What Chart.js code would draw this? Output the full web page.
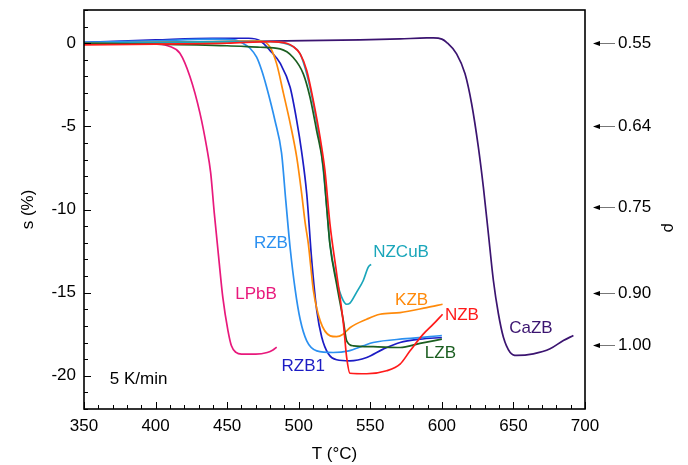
<!DOCTYPE html>
<html>
<head>
<meta charset="utf-8">
<script src="https://cdn.jsdelivr.net/npm/chart.js@4.4.1/dist/chart.umd.min.js"></script>
<style>
  html, body { margin:0; padding:0; background:#fff; }
  #wrap { width:688px; height:465px; }
</style>
</head>
<body>
<div id="wrap"><canvas id="ch-shrink" width="688" height="465"></canvas></div>
<script>
// ══════════════════════════════════════════════════════════════════════════════
//  DATA  (T in °C, s in %)
// ══════════════════════════════════════════════════════════════════════════════
const xTicks = [350, 400, 450, 500, 550, 600, 650, 700];
const yTicks = [-20, -15, -10, -5, 0];
const rhoLabels = ['0.55', '0.64', '0.75', '0.90', '1.00'];
const rhoAtS    = [0, -5.0, -9.85, -15.05, -18.15];

const LPbB = [[350,0],[380,0],[400,-0.05],[410,-0.2],[417,-0.6],[424,-2.0],[431,-4.2],[435.7,-6.25],
  [438.5,-7.8],[441,-10.2],[444,-12.8],[447,-15.3],[450.6,-17.3],[453,-18.2],[456.2,-18.6],[460,-18.7],
  [470,-18.7],[478,-18.6],[482,-18.45],[484.6,-18.28]];
const RZB = [[350,0.05],[400,0.15],[440,0.25],[455,0.2],[461,0],[466,-0.3],[470.6,-0.84],[474,-1.6],
  [477.6,-2.65],[483.4,-4.65],[488,-6.6],[491,-9.5],[494,-12.3],[497.5,-14.8],[501,-16.6],[505.6,-17.9],
  [512.6,-18.5],[524,-18.6],[535,-18.5],[545,-18.2],[552,-18.0],[575,-17.77],[600,-17.58]];
const RZB1 = [[350,0.05],[400,0.2],[440,0.3],[465,0.3],[473,0.15],[480,-0.44],[487,-1.2],[494,-2.65],
  [498.6,-4.65],[502,-6.5],[505.6,-9.05],[509.1,-13.07],[512.6,-16.07],[516.1,-17.68],[520.7,-18.68],
  [526.5,-19.04],[535.8,-19.1],[547.5,-18.9],[559,-18.4],[570.8,-18.0],[584.7,-17.8],[600,-17.7]];
const KZB = [[350,0],[400,0.05],[450,0.1],[473,0.15],[480,-0.24],[484.6,-1.24],[489.3,-3.0],[494,-4.8],
  [498.6,-6.85],[502,-9.0],[504.5,-10.8],[506.7,-12.05],[508.5,-13.5],[510.3,-14.9],[515,-16.7],
  [522,-17.6],[526.5,-17.65],[531,-17.5],[536,-17.1],[547.5,-16.6],[556.8,-16.3],[570.8,-16.2],
  [589.4,-15.9],[600.5,-15.7]];
const LZB = [[350,0],[400,-0.05],[450,-0.15],[473,-0.24],[487,-0.34],[496,-0.84],[503.2,-1.84],
  [507.9,-3.25],[512.5,-5.25],[517.2,-7.45],[519.5,-9.8],[521.8,-12.1],[526.5,-14.5],[531.2,-16.7],
  [533.5,-17.9],[538.2,-18.2],[552,-18.25],[570.8,-18.3],[584.7,-18.05],[600,-17.8]];
const NZCuB = [[350,0],[400,0.05],[450,0.1],[480,0.1],[496,-0.2],[501,-0.64],[505.6,-1.84],[510.2,-3.64],
  [515,-6.05],[517.2,-7.65],[519.5,-9.8],[521.8,-12.05],[526.5,-14.27],[530,-15.27],[533.5,-15.7],
  [535.8,-15.63],[540.5,-14.97],[545.1,-14.27],[548.6,-13.47],[550.5,-13.3]];
const NZB = [[350,-0.1],[400,-0.05],[450,0],[480,0.1],[491.5,0],[496.2,-0.2],[501,-0.64],[505.6,-1.64],
  [510.2,-3.45],[514.9,-5.65],[518.3,-7.65],[521.8,-10.85],[526.5,-13.85],[531.2,-16.85],[533.5,-18.9],
  [535.8,-19.85],[547.5,-19.88],[561.4,-19.7],[570.8,-19.3],[577.8,-18.5],[587,-17.5],[594,-16.9],
  [600.5,-16.3]];
const CaZB = [[350,0],[400,0.05],[473,0.12],[542.8,0.2],[570.8,0.26],[589.4,0.32],[594,0.32],[600,0.25],
  [603.3,0.06],[610.3,-0.64],[616.2,-1.84],[620.8,-3.64],[625.5,-6.25],[629,-8.66],[632.5,-11.46],
  [636,-14.27],[639.5,-16.27],[643,-17.68],[647.6,-18.58],[652.3,-18.78],[663.9,-18.68],[675.6,-18.38],
  [684.9,-17.88],[691.9,-17.58]];

// ══════════════════════════════════════════════════════════════════════════════
//  STYLE
// ══════════════════════════════════════════════════════════════════════════════
const FONT = '"Liberation Sans", Arial, sans-serif';
const series = [
  { name:'NZB',   pts:NZB,   color:'#ff1a1a', at:[614,-16.37] },
  { name:'LZB',   pts:LZB,   color:'#1b5e20', at:[599,-18.68] },
  { name:'NZCuB', pts:NZCuB, color:'#1aa6ba', at:[571.5,-12.57] },
  { name:'KZB',   pts:KZB,   color:'#ff8a0a', at:[578.9,-15.47] },
  { name:'RZB',   pts:RZB,   color:'#2b90f0', at:[480.6,-12.05] },
  { name:'RZB1',  pts:RZB1,  color:'#1c1cc4', at:[503.2,-19.44] },
  { name:'LPbB',  pts:LPbB,  color:'#e8197c', at:[470.2,-15.1] },
  { name:'CaZB',  pts:CaZB,  color:'#3b1470', at:[662.2,-17.17] },
];

// ticks inside the frame, frame box, rho arrows, curve names
const decor = {
  id: 'decor',
  afterDraw(chart) {
    const { ctx, chartArea: a, scales: { x, y, y2 } } = chart;
    ctx.save();
    ctx.strokeStyle = '#000';
    ctx.lineWidth = 1;
    for (let t = 350; t <= 700; t += 10) {
      const px = Math.round(x.getPixelForValue(t)) + 0.5;
      const len = t % 50 === 0 ? 7 : 4;
      ctx.beginPath(); ctx.moveTo(px, a.bottom); ctx.lineTo(px, a.bottom - len); ctx.stroke();
    }
    for (let v = -22; v <= 2; v += 1) {
      const py = Math.round(y.getPixelForValue(v)) + 0.5;
      const len = v % 5 === 0 ? 7 : 4;
      ctx.beginPath(); ctx.moveTo(a.left, py); ctx.lineTo(a.left + len, py); ctx.stroke();
    }
    ctx.lineWidth = 1.6;
    ctx.strokeRect(a.left, a.top, a.right - a.left, a.bottom - a.top);

    // arrows on the density side
    rhoAtS.forEach(v => {
      const py = Math.round(y2.getPixelForValue(v)) + 0.5;
      ctx.strokeStyle = '#777'; ctx.lineWidth = 1;
      ctx.beginPath(); ctx.moveTo(a.right + 12, py); ctx.lineTo(a.right + 30, py); ctx.stroke();
      ctx.fillStyle = '#000';
      ctx.beginPath(); ctx.moveTo(a.right + 8, py); ctx.lineTo(a.right + 15, py - 2.5); ctx.lineTo(a.right + 15, py + 2.5); ctx.closePath(); ctx.fill();
    });

    // rho axis name, a bit below the middle as in the source
    ctx.save();
    ctx.translate(668, y2.getPixelForValue(-11.1));
    ctx.rotate(Math.PI / 2);
    ctx.fillStyle = '#000'; ctx.textAlign = 'center'; ctx.textBaseline = 'middle';
    ctx.font = '16px ' + FONT;
    ctx.fillText('ρ', 0, 0);
    ctx.restore();

    ctx.textAlign = 'center'; ctx.textBaseline = 'middle';
    ctx.font = '17px ' + FONT;
    series.forEach(s => {
      ctx.fillStyle = s.color;
      ctx.fillText(s.name, x.getPixelForValue(s.at[0]), y.getPixelForValue(s.at[1]));
    });
    ctx.fillStyle = '#000'; ctx.textAlign = 'left'; ctx.font = '17px ' + FONT;
    ctx.fillText('5 K/min', x.getPixelForValue(368), y.getPixelForValue(-20.2));
    ctx.restore();
  }
};

const tickFont = { family: FONT, size: 17 };
const noGrid = { display: false, drawTicks: false };
// pin the plot box: no extra room for end labels
const fitV = w => s => { s.width = w; s.paddingTop = 0; s.paddingBottom = 0; };

new Chart(document.getElementById('ch-shrink').getContext('2d'), {
  type: 'scatter',
  data: {
    datasets: series.map(s => ({
      label: s.name,
      data: s.pts.map(p => ({ x: p[0], y: p[1] })),
      showLine: true, borderColor: s.color, borderWidth: 1.7,
      pointRadius: 0, tension: 0.3, cubicInterpolationMode: 'monotone',
    }))
  },
  options: {
    responsive: false, animation: false, devicePixelRatio: 1,
    layout: { padding: { top: 10, left: 0, right: 0, bottom: 0 } },
    plugins: { legend: { display: false }, tooltip: { enabled: false } },
    scales: {
      x: {
        type: 'linear', min: 350, max: 700,
        grid: noGrid, border: { display: false },
        afterBuildTicks: s => { s.ticks = xTicks.map(v => ({ value: v })); },
        afterFit: s => { s.height = 56; s.paddingLeft = 0; s.paddingRight = 0; },
        ticks: { color: '#000', font: tickFont, padding: 7, autoSkip: false, maxRotation: 0 },
        title: { display: true, text: 'T (°C)', color: '#000', font: tickFont, padding: 0 },
      },
      y: {
        type: 'linear', position: 'left', min: -22, max: 2,
        grid: noGrid, border: { display: false },
        afterBuildTicks: s => { s.ticks = yTicks.map(v => ({ value: v })); },
        afterFit: fitV(84),
        ticks: { color: '#000', font: tickFont, padding: 8, autoSkip: false },
        title: { display: true, text: 's (%)', color: '#000', font: tickFont, padding: { top: 18 } },
      },
      y2: {
        type: 'linear', position: 'right', min: -22, max: 2,
        grid: noGrid, border: { display: false },
        afterBuildTicks: s => { s.ticks = rhoAtS.map(v => ({ value: v })); },
        afterFit: fitV(103),
        ticks: { color: '#000', font: tickFont, padding: 33, autoSkip: false,
                 callback: (v, i) => rhoLabels[i] },
        title: { display: false },
      },
    },
  },
  plugins: [decor],
});
</script>
</body>
</html>
